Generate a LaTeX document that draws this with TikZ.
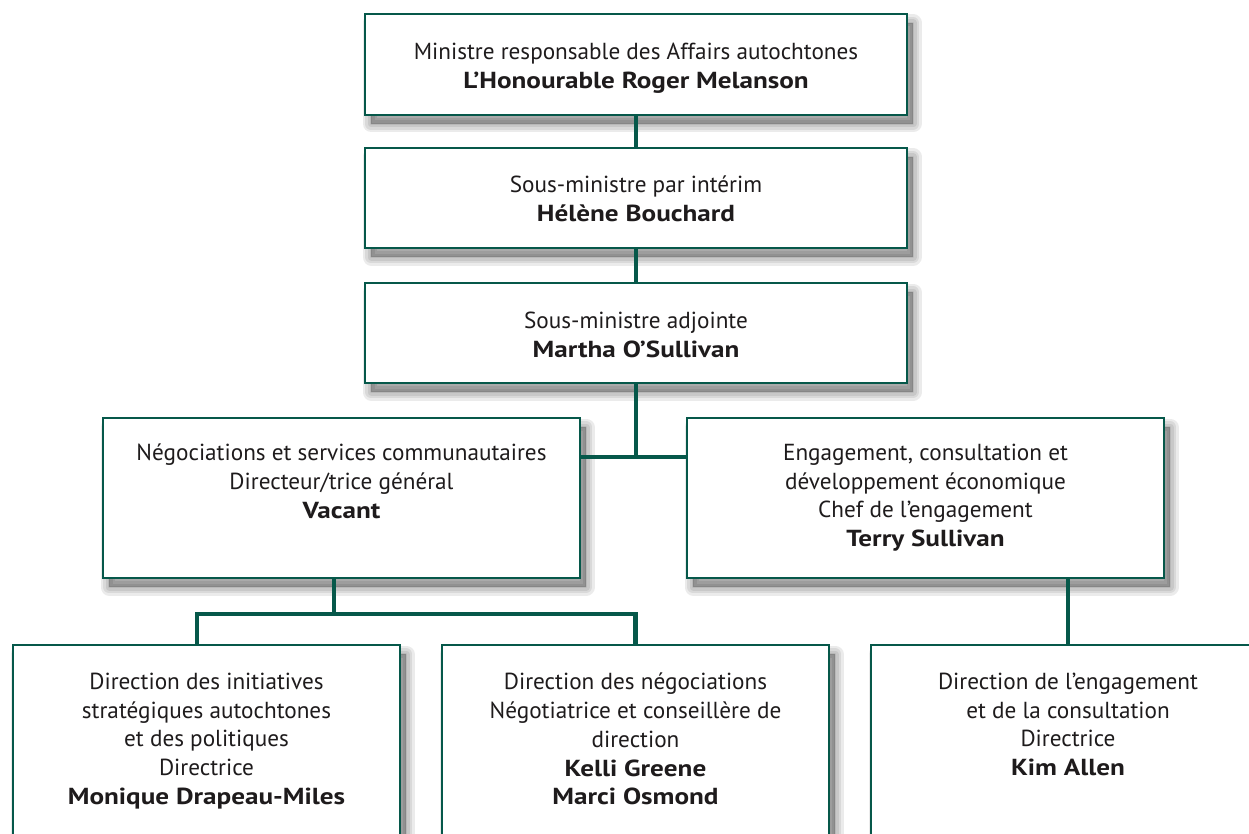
\documentclass[tikz,border=0pt]{standalone}
\usepackage{fontspec}
\setmainfont{PT Sans}[BoldFeatures={FakeStretch=1.17}]
\usetikzlibrary{positioning}
\definecolor{frame}{RGB}{6,88,74}
\definecolor{ink}{RGB}{30,27,28}

\begin{document}
\begin{tikzpicture}[x=1pt,y=-1pt,
 haze/.style={preaction={draw=black,fill=black,opacity=.08,line width=#1,line join=round,
   transform canvas={xshift=6pt,yshift=-9pt}}},
 unit/.style={draw=frame,line width=2.6pt,fill=white,inner sep=0pt,
   haze=17pt,haze=12pt,haze=7pt,haze=2pt},
 txt/.style={align=center,inner sep=0pt,text=ink,font=\fontsize{23.2}{28.8}\selectfont},
 link/.style={draw=frame,line width=4.5pt,line join=miter}]
\useasboundingbox (0,0) rectangle (1249,834);
\coordinate (hub) at (636,457);
\coordinate (split) at (334,614);
% boxes
\node[unit,minimum width=542pt,minimum height=101pt] (minister) at (636,64.5) {};
\node[unit,minimum width=542pt,minimum height=100pt] (deputy) at (636,198) {};
\node[unit,minimum width=542pt,minimum height=100pt] (assoc) at (636,333) {};
\node[unit,minimum width=477pt,minimum height=160pt] (negot) at (341.5,498) {};
\node[unit,minimum width=477pt,minimum height=160pt] (engage) at (925.5,498) {};
\node[unit,minimum width=387pt,minimum height=230pt] (dirA) at (206.5,760) {};
\node[unit,minimum width=387pt,minimum height=230pt] (dirB) at (635.5,760) {};
\node[unit,minimum width=394pt,minimum height=230pt] (dirC) at (1068,760) {};
% connectors
\draw[link] (minister.south) -- (deputy.north);
\draw[link] (deputy.south) -- (assoc.north);
\draw[link] (assoc.south) -- (hub);
\draw[link] (negot.east |- hub) -- (engage.west |- hub);
\draw[link] (negot.south -| split) -- (split);
\draw[link] ([xshift=-9.5pt]dirA.north) |- (split) -| (dirB.north);
\draw[link] (dirC.north) -- (dirC.north |- engage.south);
% texts
\node[txt,anchor=north,below=30pt of minister.north] (ministertxt)
 {Ministre responsable des Affairs autochtones\\\textbf{L’Honourable Roger Melanson}};
\node[txt,anchor=north,below=29pt of deputy.north] (deputytxt)
 {Sous-ministre par intérim\\\textbf{Hélène Bouchard}};
\node[txt,anchor=north,below=30pt of assoc.north] (assoctxt)
 {Sous-ministre adjointe\\\textbf{Martha O’Sullivan}};
\node[txt,anchor=north,below=27pt of negot.north] (negottxt)
 {Négociations et services communautaires\\Directeur/trice général\\\textbf{Vacant}};
\node[txt,anchor=north,below=27pt of engage.north] (engagetxt)
 {Engagement, consultation et\\développement économique\\Chef de l’engagement\\\textbf{Terry Sullivan}};
\node[txt,anchor=north,below=29pt of dirA.north] (dirAtxt)
 {Direction des initiatives\\stratégiques autochtones\\et des politiques\\Directrice\\\textbf{Monique Drapeau-Miles}};
\node[txt,anchor=north,below=29pt of dirB.north] (dirBtxt)
 {Direction des négociations\\Négotiatrice et conseillère de\\direction\\\textbf{Kelli Greene}\\\textbf{Marci Osmond}};
\node[txt,anchor=north,below=29pt of dirC.north] (dirCtxt)
 {Direction de l’engagement\\et de la consultation\\Directrice\\\textbf{Kim Allen}};
\end{tikzpicture}
\end{document}
